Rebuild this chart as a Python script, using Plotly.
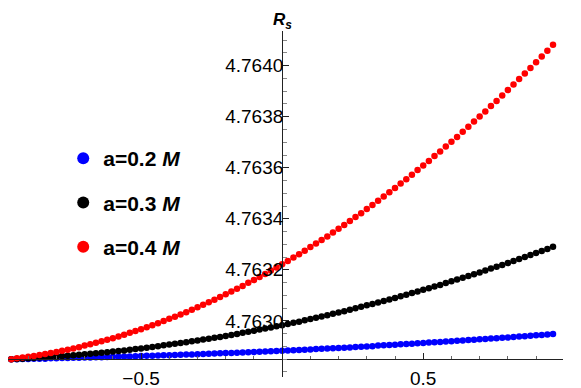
import plotly.graph_objects as go

# spin parameter grid (horizontal axis)
x_vals = [-0.96, -0.94, -0.92, -0.90, -0.88, -0.86, -0.84, -0.82, -0.80, -0.78,
          -0.76, -0.74, -0.72, -0.70, -0.68, -0.66, -0.64, -0.62, -0.60, -0.58,
          -0.56, -0.54, -0.52, -0.50, -0.48, -0.46, -0.44, -0.42, -0.40, -0.38,
          -0.36, -0.34, -0.32, -0.30, -0.28, -0.26, -0.24, -0.22, -0.20, -0.18,
          -0.16, -0.14, -0.12, -0.10, -0.08, -0.06, -0.04, -0.02, 0.00, 0.02,
          0.04, 0.06, 0.08, 0.10, 0.12, 0.14, 0.16, 0.18, 0.20, 0.22,
          0.24, 0.26, 0.28, 0.30, 0.32, 0.34, 0.36, 0.38, 0.40, 0.42,
          0.44, 0.46, 0.48, 0.50, 0.52, 0.54, 0.56, 0.58, 0.60, 0.62,
          0.64, 0.66, 0.68, 0.70, 0.72, 0.74, 0.76, 0.78, 0.80, 0.82,
          0.84, 0.86, 0.88, 0.90, 0.92, 0.94, 0.96]

# R_s for a = 0.2 M
rs_a02 = [4.762850, 4.762850, 4.762851, 4.762851, 4.762852, 4.762852, 4.762852, 4.762853, 4.762853, 4.762854,
          4.762854, 4.762855, 4.762855, 4.762856, 4.762856, 4.762857, 4.762857, 4.762858, 4.762859, 4.762859,
          4.762860, 4.762860, 4.762861, 4.762862, 4.762863, 4.762863, 4.762864, 4.762865, 4.762865, 4.762866,
          4.762867, 4.762868, 4.762868, 4.762869, 4.762870, 4.762871, 4.762872, 4.762873, 4.762874, 4.762874,
          4.762875, 4.762876, 4.762877, 4.762878, 4.762879, 4.762880, 4.762881, 4.762882, 4.762883, 4.762884,
          4.762885, 4.762886, 4.762887, 4.762888, 4.762890, 4.762891, 4.762892, 4.762893, 4.762894, 4.762895,
          4.762896, 4.762898, 4.762899, 4.762900, 4.762901, 4.762903, 4.762904, 4.762905, 4.762906, 4.762908,
          4.762909, 4.762910, 4.762912, 4.762913, 4.762915, 4.762916, 4.762917, 4.762919, 4.762920, 4.762922,
          4.762923, 4.762925, 4.762926, 4.762928, 4.762929, 4.762931, 4.762932, 4.762934, 4.762935, 4.762937,
          4.762939, 4.762940, 4.762942, 4.762944, 4.762945, 4.762947, 4.762949]

# R_s for a = 0.3 M
rs_a03 = [4.762850, 4.762851, 4.762852, 4.762853, 4.762854, 4.762856, 4.762857, 4.762859, 4.762860, 4.762862,
          4.762863, 4.762865, 4.762867, 4.762869, 4.762871, 4.762873, 4.762875, 4.762877, 4.762880, 4.762882,
          4.762884, 4.762887, 4.762890, 4.762892, 4.762895, 4.762898, 4.762901, 4.762904, 4.762907, 4.762910,
          4.762913, 4.762916, 4.762920, 4.762923, 4.762927, 4.762930, 4.762934, 4.762937, 4.762941, 4.762945,
          4.762949, 4.762953, 4.762957, 4.762961, 4.762966, 4.762970, 4.762974, 4.762979, 4.762983, 4.762988,
          4.762993, 4.762997, 4.763002, 4.763007, 4.763012, 4.763017, 4.763022, 4.763028, 4.763033, 4.763038,
          4.763044, 4.763049, 4.763055, 4.763061, 4.763066, 4.763072, 4.763078, 4.763084, 4.763090, 4.763096,
          4.763102, 4.763109, 4.763115, 4.763122, 4.763128, 4.763135, 4.763141, 4.763148, 4.763155, 4.763162,
          4.763169, 4.763176, 4.763183, 4.763190, 4.763197, 4.763205, 4.763212, 4.763219, 4.763227, 4.763235,
          4.763242, 4.763250, 4.763258, 4.763266, 4.763274, 4.763282, 4.763290]

# R_s for a = 0.4 M
rs_a04 = [4.762850, 4.762853, 4.762856, 4.762859, 4.762862, 4.762866, 4.762870, 4.762874, 4.762878, 4.762883,
          4.762887, 4.762892, 4.762897, 4.762903, 4.762908, 4.762914, 4.762920, 4.762926, 4.762932, 4.762939,
          4.762946, 4.762953, 4.762960, 4.762967, 4.762975, 4.762983, 4.762991, 4.762999, 4.763008, 4.763016,
          4.763025, 4.763034, 4.763044, 4.763053, 4.763063, 4.763073, 4.763083, 4.763094, 4.763104, 4.763115,
          4.763126, 4.763137, 4.763149, 4.763160, 4.763172, 4.763184, 4.763197, 4.763209, 4.763222, 4.763235,
          4.763248, 4.763261, 4.763275, 4.763289, 4.763303, 4.763317, 4.763331, 4.763346, 4.763361, 4.763376,
          4.763391, 4.763407, 4.763422, 4.763438, 4.763454, 4.763471, 4.763487, 4.763504, 4.763521, 4.763538,
          4.763555, 4.763573, 4.763591, 4.763609, 4.763627, 4.763646, 4.763664, 4.763683, 4.763702, 4.763721,
          4.763741, 4.763761, 4.763781, 4.763801, 4.763821, 4.763842, 4.763862, 4.763883, 4.763905, 4.763926,
          4.763948, 4.763969, 4.763991, 4.764014, 4.764036, 4.764059, 4.764082]

series_names = ["<b>a=0.2 <i>M</i></b>", "<b>a=0.3 <i>M</i></b>", "<b>a=0.4 <i>M</i></b>"]
series_colors = ["#0000ff", "#000000", "#ff0000"]

y_ticks = [4.7630, 4.7632, 4.7634, 4.7636, 4.7638, 4.7640]
y_ticktext = ["4.7630", "4.7632", "4.7634", "4.7636", "4.7638", "4.7640"]
x_ticks = [-0.5, 0.5]
x_ticktext = ["\u22120.5", "0.5"]

# the page body adds an 8px offset, so the plot box starts 8px in
x_rng = [-0.9716, 0.9954]
y_rng = [4.76278, 4.764136]
y_cross = 4.76285  # where the horizontal axis sits

FONT = "Liberation Sans, Arial, sans-serif"

fig = go.Figure()
for name, col, ys in zip(series_names, series_colors, [rs_a02, rs_a03, rs_a04]):
    fig.add_trace(go.Scatter(x=x_vals, y=ys, mode="markers", name=name,
                             legendgroup=name,
                             marker=dict(color=col, size=6.5, line=dict(width=0))))

minor_x = [v / 10 for v in range(-9, 10) if v != 0]
minor_y = [4.76280 + i * 0.00005 for i in range(28)]

fig.update_layout(
    width=581, height=388,
    margin=dict(l=0, r=26, t=23, b=19),
    paper_bgcolor="white", plot_bgcolor="white",
    font=dict(family=FONT, size=19, color="black"),
    showlegend=True,
    legend=dict(x=0.0995, y=0.5043, xanchor="left", yanchor="middle",
                bgcolor="rgba(0,0,0,0)", font=dict(size=21, family=FONT),
                tracegroupgap=14, itemsizing="constant"),
    xaxis=dict(range=x_rng, anchor="free", automargin=False,
               position=(y_cross - y_rng[0]) / (y_rng[1] - y_rng[0]),
               showgrid=False, zeroline=False, showline=True,
               linecolor="#222", linewidth=1,
               tickmode="array", tickvals=x_ticks, ticktext=x_ticktext,
               ticks="inside", ticklen=6, tickcolor="#222", ticklabelstandoff=2,
               minor=dict(tickmode="array", tickvals=minor_x, ticks="inside",
                          ticklen=3, tickcolor="#666")),
    yaxis=dict(range=y_rng, anchor="free", automargin=False,
               position=(0 - x_rng[0]) / (x_rng[1] - x_rng[0]),
               showgrid=False, zeroline=False, showline=True,
               linecolor="#222", linewidth=1,
               tickmode="array", tickvals=y_ticks, ticktext=y_ticktext,
               ticks="inside", ticklen=6, tickcolor="#222", ticklabelstandoff=-5,
               minor=dict(tickmode="array", tickvals=minor_y, ticks="inside",
                          ticklen=4, tickcolor="#888")),
)

fig.add_annotation(text="<b><i>R</i></b><sub><b><i>s</i></b></sub>",
                   xref="paper", yref="paper", x=0.494, y=1.066,
                   xanchor="center", yanchor="top", showarrow=False,
                   font=dict(size=17, family=FONT, color="black"))
fig.add_annotation(text="<b>l</b>", xref="paper", yref="paper",
                   x=1.019, y=0.045, xanchor="left", yanchor="middle",
                   showarrow=False, font=dict(size=20, family=FONT, color="black"))

fig.write_html("out.html")
